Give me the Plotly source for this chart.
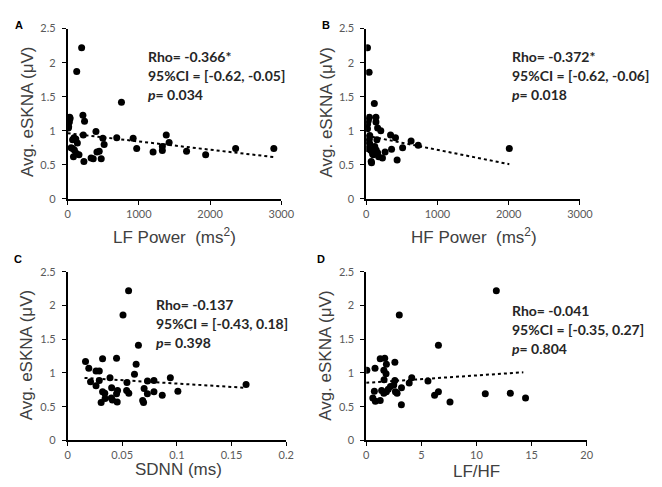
import plotly.graph_objects as go

# ---------------- data ----------------
lf_power = [197, 128, 756, 30, 35, 25, 15, 10, 215, 238, 220, 398, 70, 90, 115, 137, 50, 70, 95, 120,
            82, 160, 229, 330, 360, 412, 444, 472, 495, 513, 690, 920, 970, 1200, 1330, 1330, 1385,
            1425, 1670, 1938, 2359, 2895]
eskna_a = [2.22, 1.87, 1.42, 1.20, 1.18, 1.13, 1.06, 1.04, 1.23, 1.14, 0.94, 0.99, 0.87, 0.90, 0.88, 0.82,
           0.75, 0.74, 0.72, 0.67, 0.62, 0.65, 0.55, 0.60, 0.59, 0.69, 0.70, 0.59, 0.89, 0.80, 0.90, 0.89,
           0.74, 0.69, 0.71, 0.77, 0.94, 0.83, 0.70, 0.65, 0.74, 0.74]

hf_power = [18, 41, 114, 45, 30, 20, 5, 18, 137, 137, 160, 205, 50, 45, 35, 50, 342, 411, 630, 730,
            60, 80, 120, 160, 175, 70, 75, 228, 265, 356, 434, 511, 2009, 100, 140, 150, 25, 90]
eskna_b = [2.22, 1.86, 1.40, 1.20, 1.15, 1.10, 1.05, 1.03, 1.20, 1.13, 1.04, 1.00, 0.93, 0.88, 0.84, 0.81,
           0.94, 0.90, 0.85, 0.79, 0.72, 0.70, 0.77, 0.68, 0.62, 0.55, 0.53, 0.60, 0.69, 0.73, 0.57, 0.75,
           0.74, 0.65, 0.72, 0.87, 0.74, 0.66]

sdnn = [0.0558, 0.0507, 0.0648, 0.0164, 0.0194, 0.026, 0.029, 0.032, 0.0448, 0.0627, 0.0612, 0.021,
        0.029, 0.026, 0.0388, 0.0543, 0.054, 0.056, 0.0731, 0.079, 0.094, 0.070, 0.073, 0.079, 0.0866,
        0.1009, 0.1633, 0.0307, 0.032, 0.034, 0.0343, 0.0403, 0.040, 0.041, 0.0448, 0.0457, 0.0454,
        0.0687, 0.0695]
eskna_c = [2.22, 1.86, 1.41, 1.17, 1.07, 1.03, 1.03, 1.21, 1.22, 1.13, 0.98, 0.87, 0.89, 0.81, 0.93, 0.86,
           0.74, 0.70, 0.88, 0.89, 0.93, 0.77, 0.69, 0.72, 0.67, 0.73, 0.83, 0.56, 0.72, 0.70, 0.62, 0.78,
           0.63, 0.60, 0.69, 0.74, 0.57, 0.59, 0.56]

lf_hf = [11.8, 3.0, 6.55, 0.06, 0.8, 1.27, 1.68, 2.6, 1.6, 1.8, 1.83, 1.62, 2.6, 0.74, 0.6, 0.83, 1.27,
         1.6, 1.83, 2.2, 2.5, 2.65, 2.8, 3.2, 3.19, 3.9, 4.13, 5.6, 6.2, 6.55, 7.6, 10.8, 13.07, 14.45,
         2.0, 1.4]
eskna_d = [2.22, 1.86, 1.41, 1.04, 1.07, 1.21, 1.22, 1.16, 1.04, 0.99, 1.13, 0.90, 0.89, 0.73, 0.63, 0.58,
           0.59, 0.70, 0.72, 0.80, 0.82, 0.72, 0.70, 0.78, 0.53, 0.85, 0.93, 0.88, 0.67, 0.72, 0.57, 0.69,
           0.70, 0.63, 0.76, 0.74]

# trend lines (x-range, y at ends)
trend_a_x = [0, 2895]
trend_a_y = [0.965, 0.615]
trend_b_x = [0, 2009]
trend_b_y = [0.93, 0.51]
trend_c_x = [0.0155, 0.1633]
trend_c_y = [0.927, 0.78]
trend_d_x = [0, 14.25]
trend_d_y = [0.854, 1.01]

stats_a = ["Rho= -0.366*", "95%CI = [-0.62, -0.05]", "0.034"]
stats_b = ["Rho= -0.372*", "95%CI = [-0.62, -0.06]", "0.018"]
stats_c = ["Rho= -0.137", "95%CI = [-0.43, 0.18]", "0.398"]
stats_d = ["Rho= -0.041", "95%CI = [-0.35, 0.27]", "0.804"]

x_titles = ["LF Power  (ms<sup>2</sup>)", "HF Power  (ms<sup>2</sup>)", "SDNN (ms)", "LF/HF"]
y_title = "Avg. eSKNA (μV)"
panel_letters = ["A", "B", "C", "D"]

# ---------------- layout helpers ----------------
W, H = 662, 487
def px(x):
    return x / W
def py(y):
    return 1 - y / H

panels = [
    # data x, data y, trend x, trend y, x range, dtick, x domain px, y domain px, stats
    (lf_power, eskna_a, trend_a_x, trend_a_y, [0, 3000], 1000, (58, 277), (14, 189), stats_a),
    (hf_power, eskna_b, trend_b_x, trend_b_y, [0, 3000], 1000, (364, 583), (14, 189), stats_b),
    (sdnn, eskna_c, trend_c_x, trend_c_y, [0, 0.2], 0.05, (58, 282), (264, 437), stats_c),
    (lf_hf, eskna_d, trend_d_x, trend_d_y, [0, 20], 5, (364, 590), (264, 437), stats_d),
]

stat_pos = [(138, 43), (511, 43), (147, 297), (511, 304)]
ytitle_pos = [(17, 100), (323, 100), (16, 350), (322, 350)]
xtitle_pos = [(168, 227), (474, 227), (172, 467), (477, 469)]
letter_pos = [(8, 10), (323, 10), (7, 251), (318, 251)]

fig = go.Figure()
annotations = []
layout = {}

for i, (xd, yd, tx, ty, xr, dt, xdom, ydom, st) in enumerate(panels):
    n = "" if i == 0 else str(i + 1)
    xa, ya = "x" + n, "y" + n
    fig.add_trace(go.Scatter(x=xd, y=yd, mode="markers", xaxis=xa, yaxis=ya,
                             marker=dict(color="black", size=7), showlegend=False))
    fig.add_trace(go.Scatter(x=tx, y=ty, mode="lines", xaxis=xa, yaxis=ya,
                             line=dict(color="black", width=2, dash="dot"), showlegend=False))
    common = dict(showline=True, linecolor="black", linewidth=1.5, ticks="outside", ticklen=4,
                  tickcolor="black", tickwidth=1.2, showgrid=False, zeroline=False,
                  tickfont=dict(family="Lato, Open Sans, sans-serif", size=11, color="#595959"))
    layout["xaxis" + n] = dict(domain=[px(xdom[0]), px(xdom[1])], range=xr, dtick=dt, tick0=0,
                               anchor=ya, **common)
    layout["yaxis" + n] = dict(domain=[py(ydom[1]), py(ydom[0])], range=[0, 2.5], dtick=0.5, tick0=0,
                               anchor=xa, ticklabelstandoff=4, **common)

    sx, sy = stat_pos[i]
    lines = [f"<b>{st[0]}</b>", f"<b>{st[1]}</b>", f"<b><i>p</i>= {st[2]}</b>"]
    for k, t in enumerate(lines):
        annotations.append(dict(x=px(sx), y=py(sy + k * 19.5), xref="paper", yref="paper", text=t,
                                showarrow=False, xanchor="left", yanchor="middle",
                                font=dict(family="Lato, Open Sans, sans-serif", size=14, color="#262626")))
    yx, yy = ytitle_pos[i]
    annotations.append(dict(x=px(yx), y=py(yy), xref="paper", yref="paper", text=y_title, textangle=-90,
                            showarrow=False, xanchor="center", yanchor="middle",
                            font=dict(family="Liberation Sans, Arial, sans-serif", size=17, color="#404040")))
    xx, xy = xtitle_pos[i]
    annotations.append(dict(x=px(xx), y=py(xy), xref="paper", yref="paper", text=x_titles[i],
                            showarrow=False, xanchor="center", yanchor="middle",
                            font=dict(family="Liberation Sans, Arial, sans-serif", size=17, color="#404040")))
    lx, ly = letter_pos[i]
    annotations.append(dict(x=px(lx), y=py(ly), xref="paper", yref="paper", text=f"<b>{panel_letters[i]}</b>",
                            showarrow=False, xanchor="center", yanchor="middle",
                            font=dict(family="Liberation Sans, Arial, sans-serif", size=11, color="black")))

fig.update_layout(width=W, height=H, margin=dict(l=0, r=0, t=0, b=0),
                  plot_bgcolor="white", paper_bgcolor="white", annotations=annotations, **layout)

fig.write_html("out.html")
